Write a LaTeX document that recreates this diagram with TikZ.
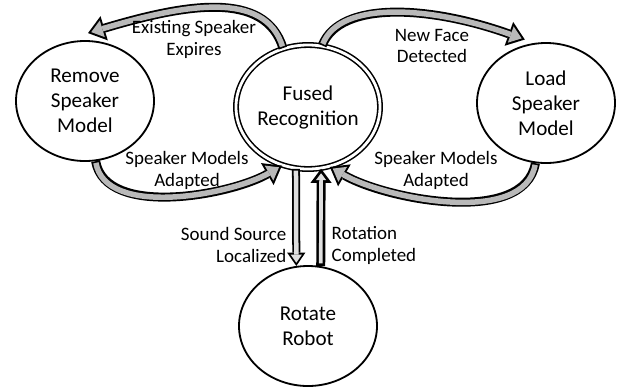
\documentclass[tikz,border=0pt]{standalone}
\usepackage{fontspec}
\setmainfont{Carlito}
\usetikzlibrary{shapes.geometric,arrows.meta}

\begin{document}
\begin{tikzpicture}[x=0.25mm, y=0.25mm,
  state/.style={ellipse, draw, line width=1.3pt, minimum width=34.5mm,
    minimum height=30mm, inner sep=0pt, align=center,
    font=\fontsize{15}{17.8}\selectfont},
  tag/.style={align=center, inner sep=1pt, font=\fontsize{13.5}{15.6}\selectfont},
  flowout/.style={line width=6.4pt,
    -{Triangle[length=12pt,width=18pt,line width=0pt]}},
  flowin/.style={line width=3.9pt, gray!55, shorten <=1.2pt, shorten >=2.4pt,
    -{Triangle[length=8.2pt,width=12.3pt,line width=0pt]}},
  downout/.style={line width=5.7pt,
    -{Triangle[length=9.5pt,width=13pt,line width=0pt]}},
  downin/.style={line width=3.2pt, gray!25, shorten <=1.2pt, shorten >=2.3pt,
    -{Triangle[length=5.8pt,width=8pt,line width=0pt]}},
  upout/.style={line width=6.4pt,
    -{Triangle[length=10pt,width=15pt,line width=0pt]}},
  upin/.style={line width=2.6pt, gray!25, shorten <=1.9pt, shorten >=3.2pt,
    -{Triangle[length=4.9pt,width=7.3pt,line width=0pt]}}]
  \useasboundingbox (0,0) rectangle (618,-387);

  % states
  \node[state] (remove) at (85,-101) {Remove\\Speaker\\Model};
  \node[state, double, double distance=2pt, line width=1.1pt,
    minimum width=36mm, minimum height=31mm] (fused) at (308,-107)
    {Fused\\Recognition};
  \node[state] (load) at (546,-103) {Load\\Speaker\\Model};
  \node[state] (rotate) at (308,-326) {Rotate\\Robot};

  % curved transitions
  \draw[flowout] (fused.113) .. controls (265,10) and (185,-4)
    .. ([shift={(3,7)}]remove.north);
  \draw[flowin]  (fused.113) .. controls (265,10) and (185,-4)
    .. ([shift={(3,7)}]remove.north);
  \draw[flowout] (fused.77) .. controls (340,0) and (431,-6)
    .. ([shift={(2,6)}]load.112);
  \draw[flowin]  (fused.77) .. controls (340,0) and (431,-6)
    .. ([shift={(2,6)}]load.112);
  \draw[flowout] (remove.-80) to[out=-80,in=210,looseness=0.8] (fused.-114);
  \draw[flowin]  (remove.-80) to[out=-80,in=210,looseness=0.8] (fused.-114);
  \draw[flowout] (load.-100) to[out=-100,in=-30,looseness=0.8] (fused.-70);
  \draw[flowin]  (load.-100) to[out=-100,in=-30,looseness=0.8] (fused.-70);

  % straight transitions
  \draw[downout] (fused.-101) -- (rotate.101);
  \draw[downin]  (fused.-101) -- (rotate.101);
  \draw[upout] (rotate.78) -- (fused.-78);
  \draw[upin]  (rotate.78) -- (fused.-78);

  % labels
  \node[tag] (expires) at (194,-39) {Existing Speaker\\Expires};
  \node[tag] (newface) at (432,-46) {New Face\\Detected};
  \node[tag] (adaptl) at (187,-170) {Speaker Models\\Adapted};
  \node[tag] (adaptr) at (436,-170) {Speaker Models\\Adapted};
  \node[tag, align=right, anchor=east] (sound) at (288,-245)
    {Sound Source\\Localized};
  \node[tag, align=left, anchor=west] (rotation) at (330,-245)
    {Rotation\\Completed};
\end{tikzpicture}
\end{document}
